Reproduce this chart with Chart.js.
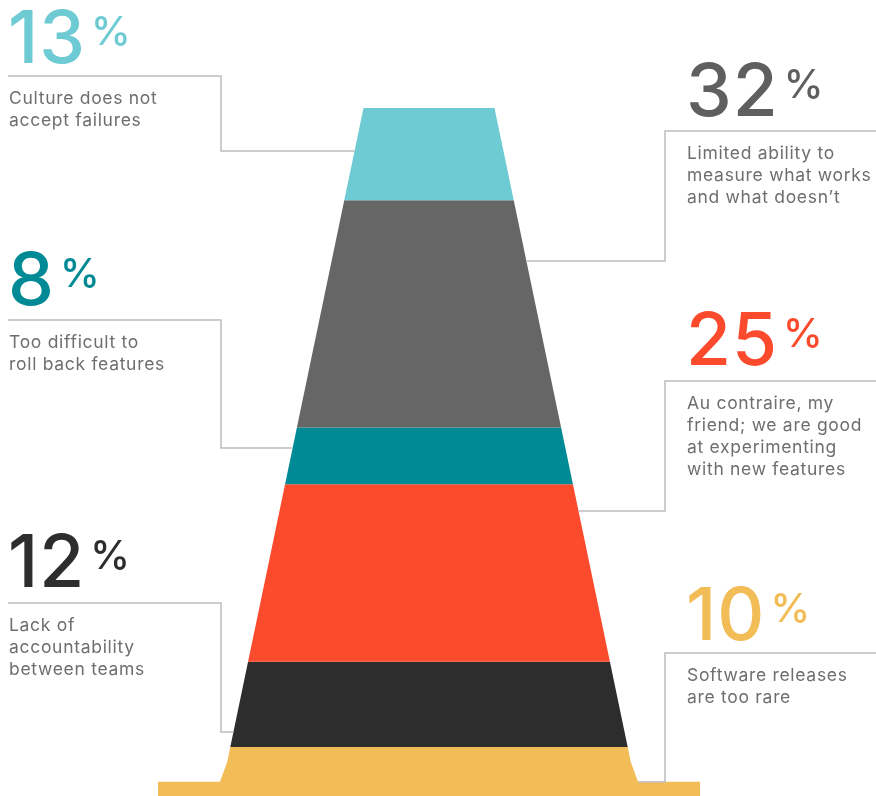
<!DOCTYPE html>
<html>
<head>
<meta charset="utf-8">
<script src="https://cdn.jsdelivr.net/npm/chart.js@4.4.1/dist/chart.umd.min.js"></script>
<style>
html,body{margin:0;padding:0;background:#fff;}
#wrap{width:876px;height:796px;position:relative;overflow:hidden;}
</style>
</head>
<body>
<div id="wrap"><canvas id="c" width="876" height="796"></canvas></div>
<script>
// ---- data ----
const categories = [
  'Culture does not\naccept failures',
  'Limited ability to\nmeasure what works\nand what doesn\u2019t',
  'Too difficult to\nroll back features',
  'Au contraire, my\nfriend; we are good\nat experimenting\nwith new features',
  'Lack of\naccountability\nbetween teams',
  'Software releases\nare too rare'
];
const values = [13, 32, 8, 25, 12, 10];
const colors = ['#6FCBD3', '#666666', '#008A95', '#FC4A2D', '#2D2D2D', '#F2BC57'];
const numberColors = ['#6FCBD3', '#5F5F5F', '#008A95', '#FC4A2D', '#2D2D2D', '#F2BC57'];

// ---- layout / style (not data) ----
const labelLayout = [
  {side:'left',  lineY:76,  attachY:151, numBase:63},
  {side:'right', lineY:131, attachY:261, numBase:116},
  {side:'left',  lineY:320, attachY:448, numBase:305},
  {side:'right', lineY:381, attachY:511, numBase:365},
  {side:'left',  lineY:603, attachY:732, numBase:587},
  {side:'right', lineY:653, attachY:782, numBase:640}
];
const CONE_TOP_HALF = 65.5;   // half width at top (x units)
const CONE_SLOPE = 1.48;      // widening per percent
const FLARE_KINK = 2.1, FLARE_FOOT = 4.9, FLARE_FOOT_HALF = 209, BASE_HALF = 271;

const totalBeforeLast = values.slice(0, -1).reduce((a,b)=>a+b, 0);
function coneHalf(c){
  const lin = CONE_TOP_HALF + CONE_SLOPE * c;
  if (c <= totalBeforeLast + FLARE_KINK) return lin;
  const k = CONE_TOP_HALF + CONE_SLOPE * (totalBeforeLast + FLARE_KINK);
  const t = Math.min(1, (c - totalBeforeLast - FLARE_KINK) / (FLARE_FOOT - FLARE_KINK));
  return k + (FLARE_FOOT_HALF - k) * t;
}

// build polygons from cumulative values
const datasets = [];
let cum = 0;
values.forEach((v, i) => {
  const a = cum, b = cum + v;
  let pts;
  if (i < values.length - 1) {
    pts = [{x:-coneHalf(a), y:a}, {x:coneHalf(a), y:a}, {x:coneHalf(b), y:b}, {x:-coneHalf(b), y:b}];
  } else {
    const k = a + FLARE_KINK, f = a + FLARE_FOOT;
    pts = [
      {x:-coneHalf(a), y:a}, {x:coneHalf(a), y:a},
      {x:coneHalf(k), y:k}, {x:FLARE_FOOT_HALF, y:f}, {x:BASE_HALF, y:f},
      {x:BASE_HALF, y:b}, {x:-BASE_HALF, y:b},
      {x:-BASE_HALF, y:f}, {x:-FLARE_FOOT_HALF, y:f}, {x:-coneHalf(k), y:k}
    ];
  }
  datasets.push({
    label: categories[i], data: pts, showLine: true, fill: 'shape',
    backgroundColor: colors[i], borderColor: 'rgba(0,0,0,0)', borderWidth: 0,
    pointRadius: 0, pointHoverRadius: 0, tension: 0
  });
  cum = b;
});

const PX_PER_PCT = 7.1, TOP_PX = 108;
const yMin = -TOP_PX / PX_PER_PCT, yMax = yMin + 796 / PX_PER_PCT;

const labelPlugin = {
  id: 'labels',
  afterDatasetsDraw(chart) {
    const ctx = chart.ctx, xs = chart.scales.x, ys = chart.scales.y;
    ctx.save();
    labelLayout.forEach((L, i) => {
      const c = ys.getValueForPixel(L.attachY);
      const half = coneHalf(c);
      ctx.strokeStyle = '#BDBDBD';
      ctx.lineWidth = 1.5;
      ctx.beginPath();
      if (L.side === 'left') {
        ctx.moveTo(8, L.lineY); ctx.lineTo(221, L.lineY); ctx.lineTo(221, L.attachY);
        ctx.lineTo(xs.getPixelForValue(-half), L.attachY);
      } else {
        ctx.moveTo(876, L.lineY); ctx.lineTo(665, L.lineY); ctx.lineTo(665, L.attachY);
        ctx.lineTo(xs.getPixelForValue(half), L.attachY);
      }
      ctx.stroke();
      const tx = L.side === 'left' ? 8 : 686;
      // number
      ctx.fillStyle = numberColors[i];
      ctx.textBaseline = 'alphabetic';
      ctx.textAlign = 'left';
      ctx.letterSpacing = '1px';
      ctx.font = '500 73px Inter';
      const num = String(values[i]);
      ctx.fillText(num, tx, L.numBase);
      const w = ctx.measureText(num).width;
      ctx.letterSpacing = '0px';
      ctx.font = '500 40px Inter';
      ctx.fillText('%', tx + w + 5, L.numBase - 18);
      // description
      ctx.fillStyle = '#6E6E6E';
      ctx.font = '400 17.5px Inter';
      ctx.letterSpacing = '0.7px';
      categories[i].split('\n').forEach((line, j) => {
        ctx.fillText(line, tx + 1, L.lineY + 28 + j * 22);
      });
      ctx.letterSpacing = '0px';
    });
    ctx.restore();
  }
};

new Chart(document.getElementById('c'), {
  type: 'scatter',
  data: { datasets },
  options: {
    responsive: false, devicePixelRatio: 1, animation: false,
    layout: { padding: 0 },
    plugins: { legend: {display:false}, tooltip: {enabled:false} },
    events: [],
    scales: {
      x: { type:'linear', min:-429, max:447, display:false },
      y: { type:'linear', min:yMin, max:yMax, reverse:true, display:false }
    }
  },
  plugins: [labelPlugin]
});
</script>
</body>
</html>
